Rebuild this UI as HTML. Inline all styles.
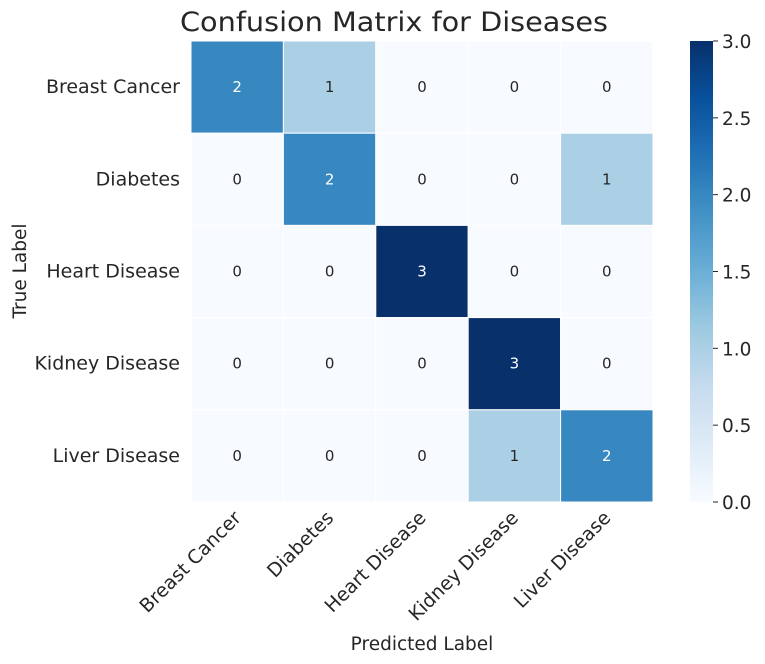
<!DOCTYPE html>
<html><head><meta charset="utf-8"><style>
body{margin:0;background:#fff;}
svg{display:block;font-family:"DejaVu Sans","Liberation Sans",sans-serif;}
</style></head><body>
<svg id="chart" width="765" height="664" viewBox="0 0 765 664">
<defs><linearGradient id="cb" x1="0" y1="1" x2="0" y2="0">
<stop offset="0" stop-color="#f7fbff"/><stop offset="0.125" stop-color="#deebf7"/><stop offset="0.25" stop-color="#c6dbef"/><stop offset="0.375" stop-color="#9ecae1"/><stop offset="0.5" stop-color="#6baed6"/><stop offset="0.625" stop-color="#4292c6"/><stop offset="0.75" stop-color="#2171b5"/><stop offset="0.875" stop-color="#08519c"/><stop offset="1" stop-color="#08306b"/>
</linearGradient></defs>
<text x="394" y="31" text-anchor="middle" font-size="27" fill="#262626" textLength="428" lengthAdjust="spacingAndGlyphs">Confusion Matrix for Diseases</text>
<g id="cells"></g>
<text x="422" y="650" text-anchor="middle" font-size="18.5" fill="#262626">Predicted Label</text>
<text transform="translate(26,271) rotate(-90)" text-anchor="middle" font-size="18.5" fill="#262626">True Label</text>
<rect x="690" y="41" width="23" height="461" fill="url(#cb)"/>
<g id="cbticks"></g>
</svg>
<script>
const labels=["Breast Cancer","Diabetes","Heart Disease","Kidney Disease","Liver Disease"];
const matrix=[[2,1,0,0,0],[0,2,0,0,1],[0,0,3,0,0],[0,0,0,3,0],[0,0,0,1,2]];
const cbTicks=[0,0.5,1,1.5,2,2.5,3];
const vmax=3;
const L=191,T=41,W=462,H=461,n=labels.length,cw=W/n,ch=H/n;
const NS="http://www.w3.org/2000/svg";
function mk(t,a,p){const e=document.createElementNS(NS,t);for(const k in a)e.setAttribute(k,a[k]);p.appendChild(e);return e;}
const stops=[[0,"#f7fbff"],[0.125,"#deebf7"],[0.25,"#c6dbef"],[0.375,"#9ecae1"],[0.5,"#6baed6"],[0.625,"#4292c6"],[0.75,"#2171b5"],[0.875,"#08519c"],[1,"#08306b"]];
function hx(c){return [1,3,5].map(i=>parseInt(c.substr(i,2),16));}
function color(v){const t=v/vmax;for(let i=1;i<stops.length;i++){if(t<=stops[i][0]){const a=stops[i-1],b=stops[i];const f=(t-a[0])/(b[0]-a[0]);const ca=hx(a[1]),cb=hx(b[1]);return "rgb("+ca.map((x,j)=>Math.round(x+(cb[j]-x)*f)).join(",")+")";}}return stops[8][1];}
const xs=i=>L+i*cw, ys=i=>T+i*ch;
const g=document.getElementById('cells');
matrix.forEach((row,r)=>row.forEach((v,c)=>{
 const rc=mk('rect',{x:xs(c),y:ys(r),width:cw,height:ch,fill:color(v),stroke:"#fff","stroke-width":1},g);
 
 
 const tx=mk('text',{x:xs(c)+cw/2,y:ys(r)+ch/2+5,"text-anchor":"middle","font-size":15,fill:v/vmax>0.5?"#fff":"#262626"},g);
 tx.textContent=v;
 
 
}));
labels.forEach((lb,i)=>{
 const y=mk('text',{x:180,y:ys(i)+ch/2+6,"text-anchor":"end","font-size":19,fill:"#262626"},g);
 y.textContent=lb;
 
 
 const cx=xs(i)+cw/2+5,cy=T+H+17;
 const x=mk('text',{x:cx,y:cy,"text-anchor":"end","font-size":19,fill:"#262626",transform:"rotate(-45 "+cx+" "+cy+")"},g);
 x.textContent=lb;
 
 
});
const cg=document.getElementById('cbticks');
cbTicks.forEach(v=>{
 const y=T+H-(v/vmax)*H;
 const l=mk('line',{x1:713,x2:718,y1:y,y2:y,stroke:"#262626","stroke-width":1},cg);
 
 
 const t=mk('text',{x:722,y:y+7,"font-size":18.5,fill:"#262626"},cg);
 t.textContent=v.toFixed(1);
 
 
});
</script>
</body></html>
